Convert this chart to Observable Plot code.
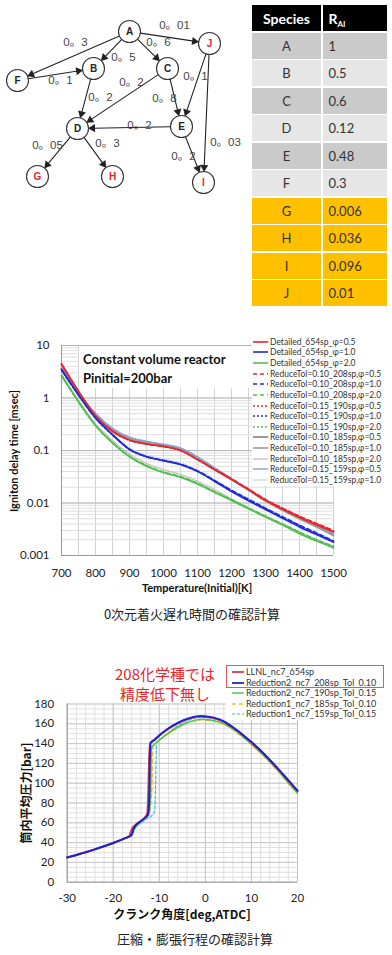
<!DOCTYPE html>
<html><head><meta charset="utf-8">
<script src="https://cdn.jsdelivr.net/npm/d3@7"></script>
<script src="https://cdn.jsdelivr.net/npm/@observablehq/plot@0.6"></script>
<style>
body{margin:0;background:#fff;}
#page{position:relative;width:392px;height:955px;overflow:hidden;background:#fff;}
.t{position:absolute;white-space:nowrap;transform:translate(-50%,-50%);line-height:1;}
.abs{position:absolute;}
</style></head><body><div id="page"></div>
<script>
// ---------------- DATA ----------------
// Reaction graph (layout coordinates of the diagram)
const nodeNames = ["A","B","C","D","E","F","G","H","I","J"];
const nodeX = [129,93,167,77,181,17,37,112,203,209];
const nodeY = [31,68,68,128,126,80,176,176,182,43];
const targetSpecies = ["G","H","I","J"];
const edgeFrom = ["A","A","A","A","F","B","C","C","J","J","E","E","D","D"];
const edgeTo   = ["F","B","C","J","B","D","D","E","E","I","D","I","G","H"];
const edgeWeight = [0.3,0.5,0.6,0.01,0.1,0.2,0.2,0.8,0.1,0.03,0.2,0.2,0.05,0.3];
const labelX = [75,123,158,174,60,100,131,164,195,225,139,183,47,107];
const labelY = [42,57,42,25,80,97,82,98,76,142,125,156,145,143];

// Table
const rValues = [1,0.5,0.6,0.12,0.48,0.3,0.006,0.036,0.096,0.01];

// Ignition delay chart
const temperature = [700,750,800,850,900,950,1000,1050,1100,1150,1200,1250,1300,1350,1400,1450,1500];
const det_05 = [4.5,1.35,0.46,0.235,0.158,0.133,0.12,0.1,0.067,0.043,0.028,0.018,0.0112,0.0076,0.0053,0.0038,0.0028];
const det_10 = [3.5,1.15,0.42,0.2,0.105,0.076,0.064,0.054,0.04,0.026,0.0165,0.011,0.0075,0.0051,0.0035,0.0025,0.0018];
const det_20 = [2.7,0.85,0.3,0.14,0.076,0.05,0.038,0.031,0.023,0.016,0.0112,0.0078,0.0054,0.0038,0.0026,0.0019,0.0014];
const r208_05 = [4.4,1.33,0.46,0.232,0.157,0.133,0.12,0.1,0.068,0.044,0.029,0.0185,0.0117,0.008,0.0056,0.0041,0.003];
const r208_10 = [3.5,1.14,0.42,0.2,0.106,0.077,0.065,0.055,0.041,0.027,0.0175,0.0118,0.008,0.0055,0.0038,0.0027,0.0019];
const r208_20 = [2.7,0.85,0.3,0.142,0.078,0.052,0.039,0.032,0.024,0.0165,0.0116,0.008,0.0056,0.004,0.0028,0.002,0.0015];
const r190_05 = [4.3,1.32,0.46,0.23,0.156,0.132,0.119,0.1,0.067,0.044,0.0285,0.0183,0.0115,0.0079,0.0055,0.004,0.0029];
const r190_10 = [3.4,1.13,0.41,0.198,0.104,0.076,0.064,0.054,0.04,0.0265,0.017,0.0114,0.0078,0.0053,0.0037,0.0026,0.00185];
const r190_20 = [2.6,0.84,0.3,0.14,0.077,0.051,0.038,0.031,0.0235,0.0163,0.0114,0.0079,0.0055,0.0039,0.0027,0.0019,0.00145];
const r185_05 = [3.7,1.25,0.5,0.26,0.175,0.145,0.128,0.11,0.075,0.046,0.029,0.018,0.0112,0.0074,0.0051,0.0036,0.0025];
const r185_10 = [3.6,1.22,0.49,0.255,0.17,0.14,0.125,0.107,0.072,0.045,0.028,0.0175,0.011,0.0073,0.005,0.0035,0.0024];
const r185_20 = [2.9,0.9,0.32,0.155,0.085,0.057,0.043,0.035,0.026,0.018,0.012,0.0082,0.0057,0.004,0.0028,0.002,0.0015];
const r159_05 = [3.8,1.3,0.5,0.265,0.18,0.15,0.132,0.112,0.076,0.047,0.029,0.018,0.0113,0.0075,0.0052,0.0037,0.0026];
const r159_10 = [3.5,1.15,0.43,0.21,0.112,0.082,0.069,0.058,0.043,0.028,0.018,0.012,0.0079,0.0054,0.0037,0.0027,0.0019];
const ignNames = ["Detailed_654sp_\u03c6=0.5","Detailed_654sp_\u03c6=1.0","Detailed_654sp_\u03c6=2.0",
  "ReduceTol=0.10_208sp,\u03c6=0.5","ReduceTol=0.10_208sp,\u03c6=1.0","ReduceTol=0.10_208sp,\u03c6=2.0",
  "ReduceTol=0.15_190sp,\u03c6=0.5","ReduceTol=0.15_190sp,\u03c6=1.0","ReduceTol=0.15_190sp,\u03c6=2.0",
  "ReduceTol=0.10_185sp,\u03c6=0.5","ReduceTol=0.10_185sp,\u03c6=1.0","ReduceTol=0.10_185sp,\u03c6=2.0",
  "ReduceTol=0.15_159sp,\u03c6=0.5","ReduceTol=0.15_159sp,\u03c6=1.0"];
const ignValues = [det_05,det_10,det_20,r208_05,r208_10,r208_20,r190_05,r190_10,r190_20,r185_05,r185_10,r185_20,r159_05,r159_10];
const xTicks1 = [700,800,900,1000,1100,1200,1300,1400,1500];
const yTicks1 = [0.001,0.01,0.1,1,10];

// Pressure chart
const ang_llnl = [-30,-28,-26,-24,-22,-20,-18,-17,-16.5,-16.2,-15.8,-15,-14,-13,-12.6,-12.4,-12.2,-12,-11,-10,-8,-6,-4,-2,-1,0,2,4,6,8,10,12,14,16,18,20];
const p_llnl   = [25,27.5,30.3,33.2,36.3,39.6,43.2,45.2,46.3,51,55,58.5,62,66,70,90,125,140,144,148,155,160.5,164.5,167,167.5,167,165.5,162,156,149,141,132.5,123,113,102.5,92];
const ang_r208 = [-30,-28,-26,-24,-22,-20,-18,-17,-16.5,-16,-15.6,-15,-14,-13,-12.5,-12.2,-12.05,-11.9,-11,-10,-8,-6,-4,-2,-1,0,2,4,6,8,10,12,14,16,18,20];
const p_r208   = [25,27.5,30.3,33.2,36.3,39.6,43.2,45.2,46.3,48,54,58,61.5,65.5,68,80,125,140.5,144,148.5,155.5,161,165,167.5,168,167.5,166,162.5,156.5,149.5,141.5,133,123.5,113.5,103,92.5];
const ang_r190 = [-30,-28,-26,-24,-22,-20,-18,-17,-16.5,-16,-15.5,-15,-14,-13,-12.3,-11.9,-11.7,-11,-10,-8,-6,-4,-2,-1,0,2,4,6,8,10,12,14,16,18,20];
const p_r190   = [25,27.5,30.3,33.2,36.3,39.6,43.2,45.2,46,47.5,53,57,61,65,68,90,136,139.5,143.5,150.5,156.5,161,163.8,164.5,164.3,163,160,154.5,147.5,139.5,131,121.5,111.5,100.5,90];
const ang_r185 = [-30,-28,-26,-24,-22,-20,-18,-17,-16.5,-16,-15.5,-15,-14,-13,-12.2,-11.6,-11.4,-11,-10,-8,-6,-4,-2,-1,0,2,4,6,8,10,12,14,16,18,20];
const p_r185   = [25,27.5,30.3,33.2,36.3,39.6,43.2,45.2,46,49,54,57.5,61,65.5,70,95,137,139,143,150,156,160.5,163.3,164,163.8,162.5,159.5,154,147,139,130.5,121,111,100,89.5];
const ang_r159 = [-30,-28,-26,-24,-22,-20,-18,-17,-16.5,-16,-15.3,-14.5,-13.5,-12.5,-11.5,-11,-10.8,-10.6,-10,-8,-6,-4,-2,-1,0,2,4,6,8,10,12,14,16,18,20];
const p_r159   = [25,27.5,30.3,33.2,36.3,39.6,43.2,45.2,46,47,54,58,61.5,64.5,68,72,100,140,143.5,151,158,163,166,166.8,166.5,165,161.5,155.5,148.5,140.5,132,122.5,112.5,102,91.5];
const presNames = ["LLNL_nc7_654sp","Reduction2_nc7_208sp_Tol_0.10","Reduction2_nc7_190sp_Tol_0.15","Reduction1_nc7_185sp_Tol_0.10","Reduction1_nc7_159sp_Tol_0.15"];
const presAngles = [ang_llnl,ang_r208,ang_r190,ang_r185,ang_r159];
const presValues = [p_llnl,p_r208,p_r190,p_r185,p_r159];
const xTicks2 = [-30,-20,-10,0,10,20];
const yTicks2 = [0,20,40,60,80,100,120,140,160,180];

// ---------------- STYLES ----------------
const ignColors = ["#e8262b","#1f2bd6","#4fc24f","#e8262b","#1f2bd6","#4fc24f","#e8262b","#1f2bd6","#4fc24f","#6e6e6e","#9c9c9c","#cbc2c2","#8aa2d6","#cfdaf0"];
const ignDash = [null,null,null,"4,3","4,3","4,3","2,2","2,2","2,2",null,null,null,null,null];
const ignWidth = [1.6,1.6,1.6,1.5,1.5,1.5,1.5,1.5,1.5,1.4,2,1.4,1.4,1.4];
const ignDrawOrder = [11,13,9,10,12,0,1,2,3,4,5,6,7,8];
const presColors = ["#e0393e","#1c22d4","#52c552","#f5c02a","#4fb0e6"];
const presDash = [null,null,null,"4,3","3,2"];
const presWidth = [2,2,1.5,1.5,1.2];
const presDrawOrder = [4,3,2,0,1];
const TICKFONT = "Lato, 'Open Sans', sans-serif";
const CJK = "'Noto Sans CJK JP', 'Noto Sans', sans-serif";

// ---------------- HELPERS ----------------
const page = document.getElementById("page");
function add(el){ page.appendChild(el); return el; }
function place(text, cx, cy, css, rot){
  const d = document.createElement("div"); d.className = "t"; d.textContent = text;
  d.style.left = cx + "px"; d.style.top = cy + "px"; Object.assign(d.style, css || {});
  if (rot) d.style.transform = "translate(-50%,-50%) rotate(-90deg)";
  return add(d);
}
function box(left, top, w, h, css){
  const d = document.createElement("div"); d.className = "abs";
  Object.assign(d.style, {left:left+"px", top:top+"px", width:w+"px", height:h+"px"}, css || {});
  return add(d);
}
function legendRow(parent, top, left, color, dash, width, text, lineW, fs){
  const row = document.createElement("div");
  Object.assign(row.style, {position:"absolute", left:left+"px", top:top+"px", height:"10px", display:"flex", alignItems:"center", whiteSpace:"nowrap"});
  const ns = "http://www.w3.org/2000/svg";
  const s = document.createElementNS(ns, "svg"); s.setAttribute("width", lineW + 2); s.setAttribute("height", 10);
  const l = document.createElementNS(ns, "line");
  l.setAttribute("x1", 0); l.setAttribute("x2", lineW); l.setAttribute("y1", 5); l.setAttribute("y2", 5);
  l.setAttribute("stroke", color); l.setAttribute("stroke-width", width);
  if (dash) l.setAttribute("stroke-dasharray", dash);
  s.appendChild(l); row.appendChild(s);
  const sp = document.createElement("span"); sp.textContent = text;
  Object.assign(sp.style, {font:fs + "px " + TICKFONT, color:"#333", lineHeight:"10px"});
  row.appendChild(sp); parent.appendChild(row);
}

// ---------------- DIAGRAM ----------------
const R = 11;
const nodeIdx = new Map(nodeNames.map((n,i)=>[n,i]));
const nodes = nodeNames.map((n,i)=>({name:n, x:nodeX[i], y:nodeY[i], target:targetSpecies.includes(n)}));
const edges = edgeFrom.map((f,i)=>{
  const a = nodes[nodeIdx.get(f)], b = nodes[nodeIdx.get(edgeTo[i])];
  const dx = b.x-a.x, dy = b.y-a.y, L = Math.hypot(dx,dy), ux = dx/L, uy = dy/L;
  return {x1:a.x, y1:a.y, x2:b.x, y2:b.y, hx:b.x-ux*(R+4.2), hy:b.y-uy*(R+4.2),
          ang:Math.atan2(ux,-uy)*180/Math.PI, w:edgeWeight[i], lx:labelX[i], ly:labelY[i]};
});
const diag = Plot.plot({
  width:245, height:200, margin:0,
  x:{domain:[0,245], range:[0,245], axis:null},
  y:{domain:[0,200], range:[0,200], axis:null},
  style:{background:"transparent", overflow:"visible"},
  marks:[
    Plot.arrow(edges, {x1:"x1", y1:"y1", x2:"x2", y2:"y2", insetStart:R, insetEnd:R+5, headLength:0, stroke:"#222", strokeWidth:1.1}),
    Plot.dot(edges, {x:"hx", y:"hy", symbol:"triangle", r:3, fill:"#222", rotate:"ang"}),
    Plot.dot(nodes, {x:"x", y:"y", r:R, fill:"#fff", stroke:"#333", strokeWidth:1.1}),
    Plot.text(nodes.filter(d=>!d.target), {x:"x", y:"y", text:"name", fill:"#222", fontWeight:"bold", fontSize:10, fontFamily:"'Liberation Sans', Arial, sans-serif"}),
    Plot.text(nodes.filter(d=>d.target), {x:"x", y:"y", text:"name", fill:"#e3262b", fontWeight:"bold", fontSize:10, fontFamily:"'Liberation Sans', Arial, sans-serif"}),
    Plot.text(edges, {x:"lx", y:"ly", text:d=>String(d.w).replace(".","\u3002"), fill:"#444", fontSize:11.5, fontFamily:"'Liberation Sans', 'Noto Sans CJK JP', sans-serif"})
  ]
});
const dWrap = box(0,0,245,200); dWrap.appendChild(diag);

// ---------------- TABLE ----------------
const tbl = box(252, 5, 135, 302, {display:"grid", gridTemplateColumns:"69px 64.5px", gridTemplateRows:"26px repeat(10, 26px)", rowGap:"1.5px", columnGap:"1.5px", fontFamily:TICKFONT});
function cell(html, bg, css){ const c = document.createElement("div"); c.innerHTML = html;
  Object.assign(c.style, {background:bg, display:"flex", alignItems:"center"}, css); tbl.appendChild(c); }
cell("Species", "#000", {color:"#fff", fontWeight:"bold", fontSize:"14px", justifyContent:"center"});
cell("<span>R<span style='font-size:8px;position:relative;top:3px'>AI</span></span>", "#000", {color:"#fff", fontWeight:"bold", fontSize:"14px", paddingLeft:"6px"});
nodeNames.forEach((n,i)=>{
  const bg = targetSpecies.includes(n) ? "#ffc000" : (i % 2 === 0 ? "#cacaca" : "#e6e6e6");
  cell(n, bg, {color:"#333", fontSize:"13px", justifyContent:"center"});
  cell(String(rValues[i]), bg, {color:"#333", fontSize:"13px", paddingLeft:"6px"});
});

// ---------------- CHART 1: ignition delay ----------------
const logGrid = [0.001,0.01,0.1,1].flatMap(d=>d3.range(1,10).map(k=>k*d));
const ignMarks = ignDrawOrder.map(i => Plot.line(temperature.map((t,j)=>({t, v:ignValues[i][j]})),
  {x:"t", y:"v", stroke:ignColors[i], strokeWidth:ignWidth[i], strokeDasharray:ignDash[i] || undefined, curve:"monotone-x"}));
const c1 = Plot.plot({
  width:392, height:295, marginLeft:61, marginRight:59, marginTop:25, marginBottom:60,
  style:{background:"transparent", overflow:"visible", fontFamily:TICKFONT, fontSize:"11.5px", color:"#222"},
  x:{domain:[700,1500], label:null, ticks:xTicks1, tickFormat:d=>String(d), tickSize:0, tickPadding:13},
  y:{type:"log", domain:[0.001,10], label:null, ticks:yTicks1, tickFormat:d=>String(d), tickSize:0, tickPadding:12},
  marks:[
    Plot.ruleX(d3.range(700,1501,50), {stroke:"#d2d2d2"}),
    Plot.ruleY(logGrid, {stroke:"#dedede"}),
    Plot.ruleY(yTicks1, {stroke:"#b4b4b4"}),
    Plot.ruleX([700], {stroke:"#999"}),
    Plot.ruleY([0.001], {stroke:"#999"}),
    ...ignMarks
  ]
});
const w1 = box(0,320,392,295); w1.appendChild(c1);

// text box & legend covering grid
box(79, 346, 173, 42, {background:"#fff"});
place("Constant volume reactor", 83, 359, {transform:"translate(0,-50%)", font:"bold 13px " + TICKFONT, color:"#111"});
place("Pinitial=200bar", 83, 378, {transform:"translate(0,-50%)", font:"bold 13px " + TICKFONT, color:"#111"});
const lg1 = box(252, 336, 140, 150, {background:"#fff"});
ignNames.forEach((n,i)=> legendRow(lg1, 5.7 + i*10.64 - 5, 1, ignColors[i], ignDash[i], Math.min(ignWidth[i],1.6), n, 15, 8.5));

place("Igniton delay time [msec]", 13, 451, {font:"bold 11px " + TICKFONT, color:"#111"}, true);
place("Temperature(Initial)[K]", 197, 587, {font:"bold 11px " + TICKFONT, color:"#111"});
place("0次元着火遅れ時間の確認計算", 192, 613, {font:"13px " + CJK, color:"#222"});

// ---------------- CHART 2: pressure ----------------
const presMarks = presDrawOrder.map(i => Plot.line(presAngles[i].map((a,j)=>({a, p:presValues[i][j]})),
  {x:"a", y:"p", stroke:presColors[i], strokeWidth:presWidth[i], strokeDasharray:presDash[i] || undefined, curve:"monotone-x"}));
const c2 = Plot.plot({
  width:392, height:292, marginLeft:66.7, marginRight:95, marginTop:43.5, marginBottom:70.3,
  style:{background:"transparent", overflow:"visible", fontFamily:TICKFONT, fontSize:"11.5px", color:"#222"},
  x:{domain:[-30,20], label:null, ticks:xTicks2, tickFormat:d=>String(d), tickSize:0, tickPadding:12},
  y:{domain:[0,180], label:null, ticks:yTicks2, tickFormat:d=>String(d), tickSize:0, tickPadding:13},
  marks:[
    Plot.ruleX(d3.range(-30,21,2), {stroke:"#dedede"}),
    Plot.ruleY(d3.range(0,181,5), {stroke:"#e0e0e0"}),
    Plot.ruleX(xTicks2, {stroke:"#c4c4c4"}),
    Plot.ruleY(yTicks2, {stroke:"#c8c8c8"}),
    Plot.ruleX([-30], {stroke:"#9a9a9a"}),
    Plot.ruleY([0], {stroke:"#9a9a9a"}),
    ...presMarks
  ]
});
const w2 = box(0,660,392,292); w2.appendChild(c2);

const lg2 = box(226, 665, 158, 55, {background:"#fff"});
presNames.forEach((n,i)=> legendRow(lg2, 7 + i*10.5 - 5, 6, presColors[i], presDash[i], Math.min(presWidth[i],1.8), n, 12, 9));
box(226, 665, 158, 23, {border:"1px solid #e05a5a", boxSizing:"border-box"});

place("208化学種では", 165, 673, {font:"15px " + CJK, color:"#e8262b"});
place("精度低下無し", 165, 693, {font:"15px " + CJK, color:"#e8262b"});
place("筒内平均圧力[bar]", 25, 793, {font:"bold 12px " + CJK, color:"#111"}, true);
place("クランク角度[deg,ATDC]", 182, 913, {font:"bold 12px " + CJK, color:"#111"});
place("圧縮・膨張行程の確認計算", 195, 938, {font:"13px " + CJK, color:"#222"});
</script></body></html>
